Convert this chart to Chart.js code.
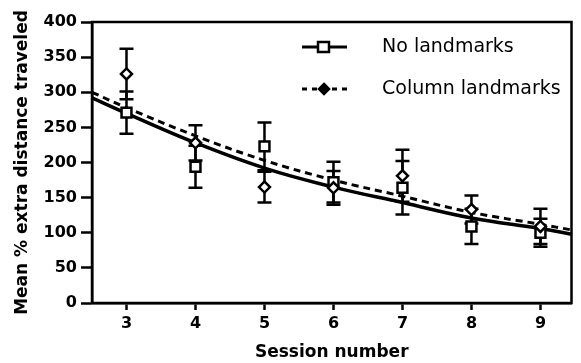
<!DOCTYPE html>
<html>
<head>
<meta charset="utf-8">
<script src="https://cdn.jsdelivr.net/npm/chart.js@4/dist/chart.umd.min.js"></script>
<style>
  html, body { margin: 0; padding: 0; background: #fff; }
  #wrap { width: 581px; height: 363px; }
</style>
</head>
<body>
<div id="wrap"><canvas id="chart"></canvas></div>
<script>
// data
const sessions = [3, 4, 5, 6, 7, 8, 9];
const seriesNames = ["No landmarks", "Column landmarks"];

const noLandmarks = [271, 194, 223, 172, 164, 109, 100];
const noLandmarksErr = [30, 30, 34, 29, 38, 25, 20];
const columnLandmarks = [326, 228, 165, 164, 181, 133, 109];
const columnLandmarksErr = [36, 25, 22, 24, 37, 20, 25];

// fitted curves, read at a few x positions
const fitX = [2.5, 3, 4, 5, 6, 7, 8, 9, 9.45];
const fitNoLandmarks = [292, 270, 228, 192, 165, 143, 121, 106, 98];
const fitColumn = [300, 278, 238, 203, 175, 152, 129, 112, 104];

const yTicks = [0, 50, 100, 150, 200, 250, 300, 350, 400];

const FONT = "'DejaVu Sans', Arial, Helvetica, sans-serif";

function pts(xs, ys) {
    return xs.map((x, i) => ({ x: x, y: ys[i] }));
}

// error bars behind the markers
const errorBars = {
    id: "errorBars",
    beforeDatasetsDraw(chart) {
        const ctx = chart.ctx;
        const xs = chart.scales.x, ys = chart.scales.y;
        const sets = [[noLandmarks, noLandmarksErr], [columnLandmarks, columnLandmarksErr]];
        ctx.save();
        ctx.strokeStyle = "#000";
        ctx.lineWidth = 2.5;
        sets.forEach(([vals, errs]) => {
            vals.forEach((v, i) => {
                const px = xs.getPixelForValue(sessions[i]);
                const top = ys.getPixelForValue(v + errs[i]);
                const bot = ys.getPixelForValue(v - errs[i]);
                ctx.beginPath();
                ctx.moveTo(px, top); ctx.lineTo(px, bot);
                ctx.moveTo(px - 7, top); ctx.lineTo(px + 7, top);
                ctx.moveTo(px - 7, bot); ctx.lineTo(px + 7, bot);
                ctx.stroke();
            });
        });
        ctx.restore();
    }
};

// box round the plot and the legend inside it
const frameAndLegend = {
    id: "frameAndLegend",
    afterDraw(chart) {
        const ctx = chart.ctx;
        const a = chart.chartArea;
        ctx.save();
        ctx.strokeStyle = "#000";
        ctx.lineWidth = 2.5;
        ctx.strokeRect(a.left, a.top, a.right - a.left, a.bottom - a.top);

        // legend
        const rows = [
            { y: 47, dash: [], style: "rect" },
            { y: 89, dash: [5, 5], style: "diamond" }
        ];
        rows.forEach((r, i) => {
            ctx.setLineDash(r.dash);
            ctx.lineWidth = 3;
            ctx.beginPath();
            ctx.moveTo(302, r.y); ctx.lineTo(347, r.y);
            ctx.stroke();
            ctx.setLineDash([]);
            ctx.lineWidth = 2.5;
            ctx.beginPath();
            if (r.style === "rect") {
                ctx.fillStyle = "#fff";
                ctx.rect(318, r.y - 5, 11, 10);
            } else {
                ctx.fillStyle = "#000";
                ctx.moveTo(324, r.y - 5); ctx.lineTo(329, r.y);
                ctx.lineTo(324, r.y + 5); ctx.lineTo(319, r.y);
                ctx.closePath();
            }
            ctx.fill();
            ctx.stroke();
            ctx.fillStyle = "#000";
            ctx.font = "19px " + FONT;
            ctx.textBaseline = "middle";
            ctx.fillText(seriesNames[i], 382, r.y);
        });
        ctx.restore();
    }
};

new Chart(document.getElementById("chart"), {
    type: "scatter",
    data: {
        datasets: [
            {
                label: "fit no landmarks",
                data: pts(fitX, fitNoLandmarks),
                showLine: true,
                borderColor: "#000",
                borderWidth: 3.5,
                pointRadius: 0,
                tension: 0.4,
                order: 4
            },
            {
                label: "fit column",
                data: pts(fitX, fitColumn),
                showLine: true,
                borderColor: "#000",
                borderWidth: 3,
                borderDash: [7, 5],
                pointRadius: 0,
                tension: 0.4,
                order: 3
            },
            {
                label: seriesNames[0],
                data: pts(sessions, noLandmarks),
                pointStyle: "rect",
                pointRadius: 7,
                pointBackgroundColor: "#fff",
                pointBorderColor: "#000",
                pointBorderWidth: 2.5,
                order: 2
            },
            {
                label: seriesNames[1],
                data: pts(sessions, columnLandmarks),
                pointStyle: "rectRot",
                pointRadius: 5.5,
                pointBackgroundColor: "#fff",
                pointBorderColor: "#000",
                pointBorderWidth: 2.5,
                order: 1
            }
        ]
    },
    options: {
        responsive: true,
        maintainAspectRatio: false,
        animation: false,
        layout: { padding: { top: 22, right: 3, left: 12, bottom: 0 } },
        plugins: {
            legend: { display: false },
            tooltip: { enabled: false }
        },
        scales: {
            x: {
                type: "linear",
                min: 2.5,
                max: 9.45,
                afterBuildTicks(scale) {
                    scale.ticks = sessions.map(v => ({ value: v }));
                },
                afterFit(scale) { scale.height = 60; },
                grid: {
                    drawOnChartArea: false,
                    drawTicks: true,
                    tickLength: 7,
                    tickWidth: 2.5,
                    color: "#000"
                },
                border: { color: "#000", width: 2.5 },
                ticks: {
                    color: "#000",
                    padding: 4,
                    font: { family: FONT, size: 16, weight: "bold" }
                },
                title: {
                    display: true,
                    text: "Session number",
                    color: "#000",
                    padding: { top: 0, bottom: 0 },
                    font: { family: FONT, size: 17, weight: "bold" }
                }
            },
            y: {
                min: 0,
                max: 400,
                afterBuildTicks(scale) {
                    scale.ticks = yTicks.map(v => ({ value: v }));
                },
                afterFit(scale) { scale.width = 80; },
                grid: {
                    drawOnChartArea: false,
                    drawTicks: true,
                    tickLength: 11,
                    tickWidth: 2.5,
                    color: "#000"
                },
                border: { color: "#000", width: 2.5 },
                ticks: {
                    color: "#000",
                    padding: 4,
                    font: { family: FONT, size: 16, weight: "bold" }
                },
                title: {
                    display: true,
                    text: "Mean % extra distance traveled",
                    color: "#000",
                    padding: { top: 0, bottom: 4 },
                    font: { family: FONT, size: 17, weight: "bold" }
                }
            }
        }
    },
    plugins: [errorBars, frameAndLegend]
});
</script>
</body>
</html>
